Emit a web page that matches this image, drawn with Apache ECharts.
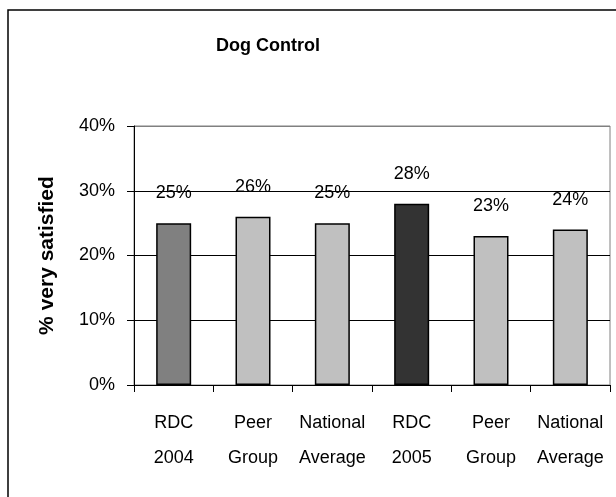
<!DOCTYPE html>
<html>
<head>
<meta charset="utf-8">
<script src="https://cdn.jsdelivr.net/npm/echarts@6/dist/echarts.min.js"></script>
<style>
  html, body { margin: 0; padding: 0; background: #fff; }
  #chart { width: 616px; height: 497px; }
</style>
</head>
<body>
<div id="chart"></div>
<script>
// Dog Control satisfaction: share of residents "very satisfied"
const categories = ['RDC\n2004', 'Peer\nGroup', 'National\nAverage', 'RDC\n2005', 'Peer\nGroup', 'National\nAverage'];
const values = [25, 26, 25, 28, 23, 24];
const yTicks = [0, 10, 20, 30, 40];

// fill for each bar: the two council years stand out from the comparison groups
const barFills = ['#808080', '#c0c0c0', '#c0c0c0', '#333333', '#c0c0c0', '#c0c0c0'];

const FONT = '"Liberation Sans", Arial, sans-serif';

const chart = echarts.init(document.getElementById('chart'), null, { renderer: 'canvas' });

chart.setOption({
  backgroundColor: '#ffffff',
  animation: false,
  title: {
    text: 'Dog Control',
    left: 263,
    top: 32,
    textAlign: 'center',
    textStyle: { fontFamily: FONT, fontSize: 18, fontWeight: 'bold', color: '#000' }
  },
  graphic: [{
    type: 'rect',
    shape: { x: 8, y: 10, width: 800, height: 700 },
    style: { fill: 'none', stroke: '#000', lineWidth: 1.5 },
    silent: true,
    z: 100
  }],
  grid: {
    left: 134, right: 6, top: 126, bottom: 112,
    show: true,
    borderColor: '#808080',
    borderWidth: 1,
    backgroundColor: 'transparent'
  },
  xAxis: {
    type: 'category',
    data: categories,
    axisLine: { lineStyle: { color: '#000', width: 1 } },
    axisTick: { show: true, length: 7, lineStyle: { color: '#000' } },
    axisLabel: {
      fontFamily: FONT, fontSize: 18, color: '#000',
      lineHeight: 35, margin: 21, interval: 0
    }
  },
  yAxis: {
    type: 'value',
    min: yTicks[0],
    max: yTicks[yTicks.length - 1],
    interval: 10,
    name: '% very satisfied',
    nameLocation: 'middle',
    nameGap: 76,
    nameTextStyle: { fontFamily: FONT, fontSize: 21, fontWeight: 'bold', color: '#000' },
    axisLine: { show: true, lineStyle: { color: '#000', width: 1 } },
    axisTick: { show: true, length: 7, lineStyle: { color: '#000' } },
    axisLabel: {
      fontFamily: FONT, fontSize: 18, color: '#000', margin: 19,
      formatter: v => v + '%'
    },
    splitLine: { show: true, lineStyle: { color: ['#000', '#000', '#000', '#000', '#808080'], width: 1 } }
  },
  series: [{
    type: 'bar',
    barWidth: 35,
    data: values.map((v, i) => ({
      value: v,
      itemStyle: { color: barFills[i], borderColor: '#000', borderWidth: 1.5 }
    })),
    label: {
      show: true,
      position: 'top',
      distance: 21,
      fontFamily: FONT, fontSize: 18, color: '#000',
      formatter: p => p.value + '%'
    }
  }]
});
</script>
</body>
</html>
